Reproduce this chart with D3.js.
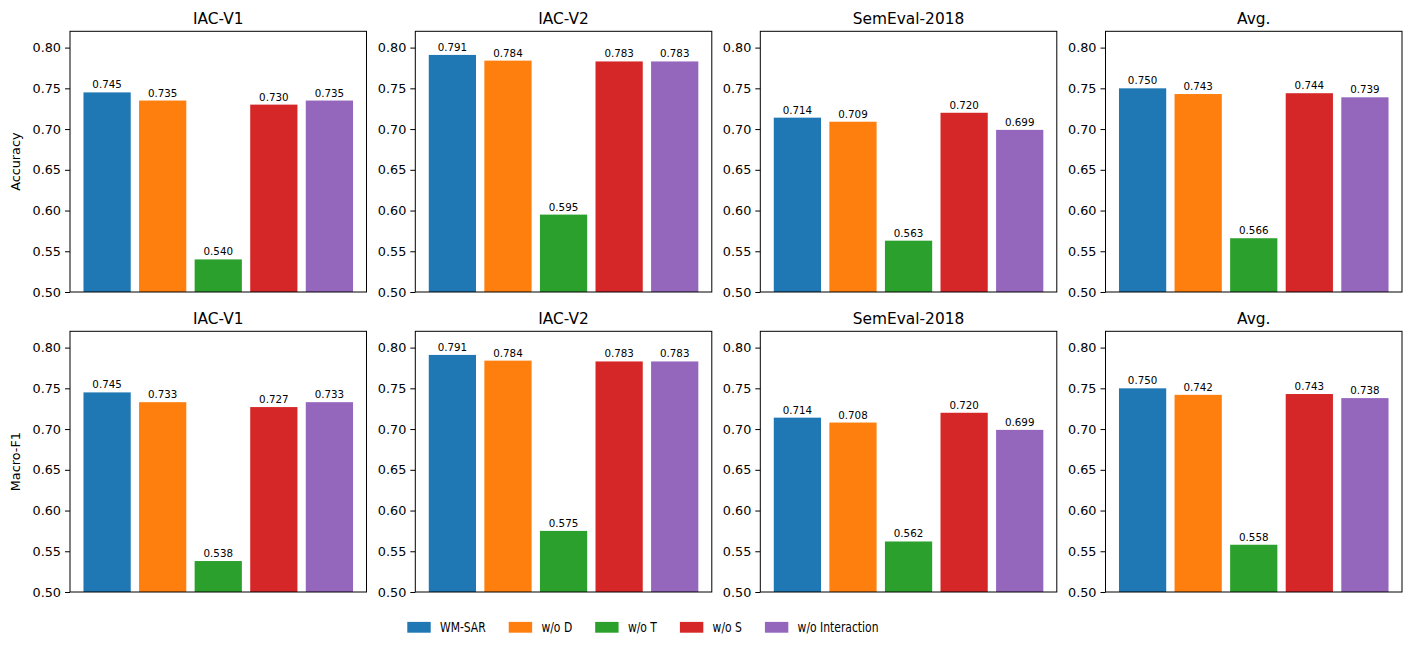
<!DOCTYPE html>
<html>
<head>
<meta charset="utf-8">
<script src="https://cdn.jsdelivr.net/npm/d3@7"></script>
<style>
  body { margin: 0; background: #fff; }
  text { font-family: "DejaVu Sans", sans-serif; fill: #000; }
</style>
</head>
<body>
<svg id="chart" width="1411" height="650"></svg>
<script>
// data
var models = ["WM-SAR", "w/o D", "w/o T", "w/o S", "w/o Interaction"];
var colors = ["#1f77b4", "#ff7f0e", "#2ca02c", "#d62728", "#9467bd"];
var datasets = ["IAC-V1", "IAC-V2", "SemEval-2018", "Avg."];
var metrics = ["Accuracy", "Macro-F1"];
var yTicks = [0.50, 0.55, 0.60, 0.65, 0.70, 0.75, 0.80];

var accIAC1 = [0.745, 0.735, 0.540, 0.730, 0.735];
var accIAC2 = [0.791, 0.784, 0.595, 0.783, 0.783];
var accSem  = [0.714, 0.709, 0.563, 0.720, 0.699];
var accAvg  = [0.750, 0.743, 0.566, 0.744, 0.739];

var f1IAC1 = [0.745, 0.733, 0.538, 0.727, 0.733];
var f1IAC2 = [0.791, 0.784, 0.575, 0.783, 0.783];
var f1Sem  = [0.714, 0.708, 0.562, 0.720, 0.699];
var f1Avg  = [0.750, 0.742, 0.558, 0.743, 0.738];

var rows = [
  [accIAC1, accIAC2, accSem, accAvg],
  [f1IAC1, f1IAC2, f1Sem, f1Avg]
];

var svg = d3.select("#chart");

var panelW = 296.5, panelH = 260.7;
var colX = [70, 415.3, 760.3, 1105.5];
var rowY = [31.3, 331.3];
var barW = 0.85;

var x = d3.scaleLinear()
  .domain([-0.6675, 4.6675])
  .range([0, panelW]);

var y = d3.scaleLinear()
  .domain([0.5, 0.82])
  .range([panelH, 0]);

rows.forEach(function(row, r) {
  row.forEach(function(vals, c) {
    var g = svg.append("g")
      .attr("transform", "translate(" + colX[c] + "," + rowY[r] + ")");

    g.selectAll("rect.bar")
      .data(vals)
      .enter()
      .append("rect")
      .attr("class", "bar")
      .attr("x", function(d, i) { return x(i - barW / 2); })
      .attr("width", function(d, i) { return x(i + barW / 2) - x(i - barW / 2); })
      .attr("y", function(d) { return y(d); })
      .attr("height", function(d) { return panelH - y(d); })
      .attr("fill", function(d, i) { return colors[i]; });

    g.selectAll("text.val")
      .data(vals)
      .enter()
      .append("text")
      .attr("class", "val")
      .attr("x", function(d, i) { return x(i); })
      .attr("y", function(d) { return y(d) - 4; })
      .attr("text-anchor", "middle")
      .attr("font-size", "10.3px")
      .text(function(d) { return d3.format(".3f")(d); });

    var yAxis = d3.axisLeft(y)
      .tickValues(yTicks)
      .tickSize(5)
      .tickPadding(4)
      .tickFormat(d3.format(".2f"));
    var ax = g.append("g").call(yAxis);
    ax.select(".domain").remove();
    ax.selectAll("text").attr("font-size", "12.8px").style("fill", "#000");
    ax.selectAll("line").attr("stroke", "#000");

    // frame
    g.append("rect")
      .attr("x", 0).attr("y", 0)
      .attr("width", panelW).attr("height", panelH)
      .attr("fill", "none")
      .attr("stroke", "#000")
      .attr("stroke-width", 1);

    g.append("text")
      .attr("x", panelW / 2)
      .attr("y", -7)
      .attr("text-anchor", "middle")
      .attr("font-size", "15.4px")
      .text(datasets[c]);

    if (c === 0) {
      g.append("text")
        .attr("transform", "translate(" + (-50) + "," + (panelH / 2) + ") rotate(-90)")
        .attr("text-anchor", "middle")
        .attr("font-size", "12.8px")
        .text(metrics[r]);
    }
  });
});

// legend (text in the reference is squeezed horizontally)
var squeeze = 0.77;
var legend = svg.append("g").attr("transform", "translate(0,627.3)");
var lx = 407.3;
models.forEach(function(m, i) {
  legend.append("rect")
    .attr("x", lx).attr("y", -5.4)
    .attr("width", 23.4).attr("height", 10.8)
    .attr("fill", colors[i]);
  var tx = lx + 23.4 + 9.3;
  var t = legend.append("text")
    .attr("transform", "translate(" + tx + ",5) scale(" + squeeze + ",1)")
    .attr("font-size", "14px")
    .text(m);
  var w = t.node().getComputedTextLength() * squeeze;
  lx = tx + w + 23;
});
</script>
</body>
</html>
